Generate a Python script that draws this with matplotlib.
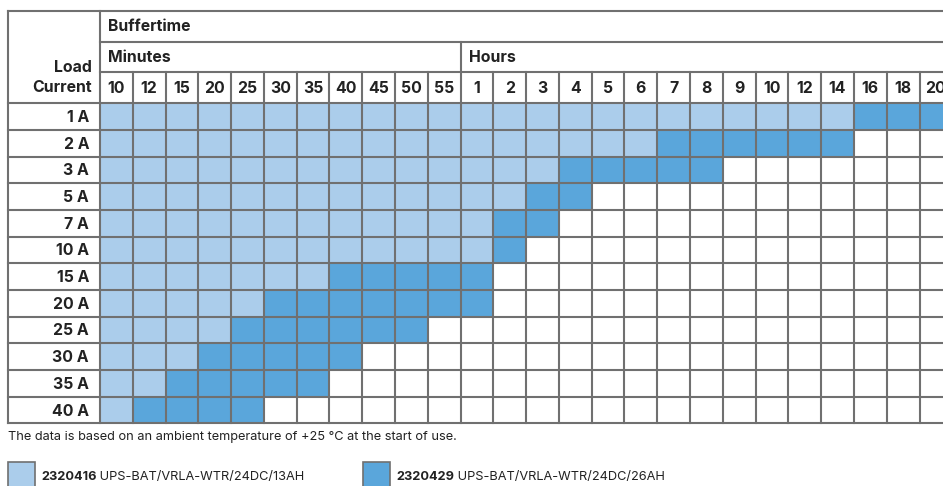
import matplotlib.pyplot as plt
from matplotlib.patches import Rectangle

# buffer time table data
loads = ["1 A", "2 A", "3 A", "5 A", "7 A", "10 A", "15 A", "20 A", "25 A", "30 A", "35 A", "40 A"]
minutes = [10, 12, 15, 20, 25, 30, 35, 40, 45, 50, 55]
hours = [1, 2, 3, 4, 5, 6, 7, 8, 9, 10, 12, 14, 16, 18, 20]

# buffer time reached per load current (value, unit)
time_13ah = [(14, "h"), (6, "h"), (3, "h"), (2, "h"), (1, "h"), (1, "h"),
             (35, "min"), (25, "min"), (20, "min"), (15, "min"), (12, "min"), (10, "min")]
time_26ah = [(20, "h"), (14, "h"), (8, "h"), (4, "h"), (3, "h"), (2, "h"),
             (1, "h"), (1, "h"), (50, "min"), (40, "min"), (35, "min"), (25, "min")]

battery_13ah = ("2320416", "UPS-BAT/VRLA-WTR/24DC/13AH")
battery_26ah = ("2320429", "UPS-BAT/VRLA-WTR/24DC/26AH")
note = "The data is based on an ambient temperature of +25 °C at the start of use."

light = "#abcdeb"
dark = "#5aa6db"
grid = "#707070"
txt = "#222222"

plt.rcParams['font.family'] = ['Inter', 'DejaVu Sans']

W, H = 943, 486
fig = plt.figure(figsize=(W / 100, H / 100), dpi=100)
ax = fig.add_axes([0, 0, 1, 1])
ax.set_xlim(0, W)
ax.set_ylim(H, 0)
ax.axis("off")

# layout in pixels
left = 8
x0 = 100
cw = 32.78
top = 11
y_min = 42
y_num = 72
y0 = 103.3
rh = 26.67
right = W + 5

columns = [str(m) for m in minutes] + [str(h) for h in hours]
ncol = len(columns)


def col_index(t):
    v, unit = t
    if unit == "min":
        return minutes.index(v)
    return len(minutes) + hours.index(v)


# cells
for r in range(len(loads)):
    i13 = col_index(time_13ah[r])
    i26 = col_index(time_26ah[r])
    for c in range(ncol):
        if c <= i13:
            col = light
        elif c <= i26:
            col = dark
        else:
            continue
        ax.add_patch(Rectangle((x0 + c * cw, y0 + r * rh), cw, rh, facecolor=col, edgecolor="none", zorder=1))

lw = 1.5
y_end = y0 + len(loads) * rh
# horizontal lines
ax.plot([left, right], [top, top], color=grid, lw=lw, zorder=3)
ax.plot([x0, right], [y_min, y_min], color=grid, lw=lw, zorder=3)
ax.plot([x0, right], [y_num, y_num], color=grid, lw=lw, zorder=3)
for r in range(len(loads) + 1):
    y = y0 + r * rh
    ax.plot([left, right], [y, y], color=grid, lw=lw, zorder=3)
# vertical lines
ax.plot([left, left], [top, y_end], color=grid, lw=lw, zorder=3)
ax.plot([x0, x0], [top, y_end], color=grid, lw=lw, zorder=3)
for c in range(1, ncol + 1):
    x = x0 + c * cw
    ys = y_min if c == len(minutes) else y_num
    ax.plot([x, x], [ys, y_end], color=grid, lw=lw, zorder=3)

fs = 11.4
# header text
ax.text(x0 + 8, (top + y_min) / 2, "Buffertime", ha="left", va="center", fontsize=fs, fontweight="bold", color=txt)
ax.text(x0 + 8, (y_min + y_num) / 2, "Minutes", ha="left", va="center", fontsize=fs, fontweight="bold", color=txt)
ax.text(x0 + len(minutes) * cw + 8, (y_min + y_num) / 2, "Hours", ha="left", va="center",
        fontsize=fs, fontweight="bold", color=txt)
ax.text(x0 - 8, 68, "Load", ha="right", va="center", fontsize=fs, fontweight="bold", color=txt)
ax.text(x0 - 8, 88, "Current", ha="right", va="center", fontsize=fs, fontweight="bold", color=txt)
for c, lab in enumerate(columns):
    ax.text(x0 + (c + 0.5) * cw, (y_num + y0) / 2 + 1, lab, ha="center", va="center",
            fontsize=fs, fontweight="bold", color=txt)
for r, lab in enumerate(loads):
    ax.text(x0 - 11, y0 + (r + 0.5) * rh + 1, lab, ha="right", va="center",
            fontsize=fs, fontweight="bold", color=txt)

# note
fs2 = 9.2
ax.text(left, 437, note, ha="left", va="center", fontsize=fs2, color=txt)

# legend
for bx, (num, name), col in [(left, battery_13ah, light), (363, battery_26ah, dark)]:
    ax.add_patch(Rectangle((bx, 462), 27, 30, facecolor=col, edgecolor=grid, lw=1.2))
    t = ax.text(bx + 33, 477, num, ha="left", va="center", fontsize=fs2, fontweight="bold", color=txt)
    ax.annotate(" " + name, xy=(1, 0.5), xycoords=t, ha="left", va="center", fontsize=fs2, color=txt)

fig.savefig("out.png", dpi=100)
